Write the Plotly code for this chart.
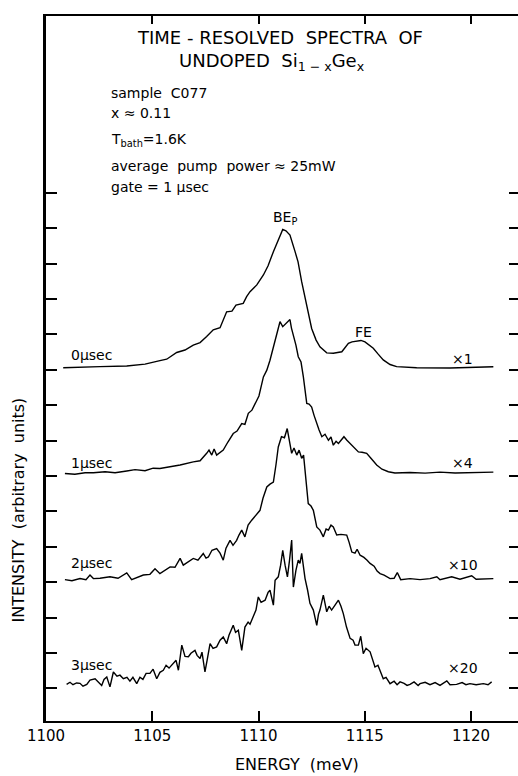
import plotly.graph_objects as go

# ---------------- data ----------------
# Energies in meV, intensities in units of one y-tick spacing above each baseline
E0 = [1100.81, 1101.60, 1102.54, 1103.80, 1104.66, 1105.36, 1105.68, 1106.15, 1106.54, 1106.93,
      1107.25, 1107.56, 1107.87, 1108.19, 1108.50, 1108.75, 1108.94, 1109.28, 1109.44, 1109.60,
      1109.92, 1110.23, 1110.45, 1110.70, 1110.92, 1111.14, 1111.29, 1111.48, 1111.72, 1111.86,
      1112.03, 1112.27, 1112.50, 1112.71, 1112.89, 1113.21, 1113.52, 1113.92, 1114.02, 1114.23,
      1114.40, 1114.62, 1114.82, 1115.01, 1115.40, 1115.62, 1115.87, 1116.19, 1116.50, 1117.44,
      1119.01, 1121.05]
I0 = [0.06, 0.065, 0.09, 0.11, 0.16, 0.26, 0.30, 0.49, 0.56, 0.70,
      0.77, 0.94, 1.13, 1.19, 1.64, 1.66, 1.83, 1.88, 2.07, 2.21,
      2.40, 2.68, 2.94, 3.34, 3.67, 3.97, 3.93, 3.81, 3.34, 3.05,
      2.49, 1.83, 1.17, 0.84, 0.65, 0.48, 0.47, 0.51, 0.59, 0.75,
      0.79, 0.81, 0.83, 0.79, 0.61, 0.45, 0.28, 0.15, 0.09, 0.06,
      0.05, 0.085]

E1 = [1100.89, 1101.36, 1101.84, 1102.23, 1102.78, 1103.25, 1103.80, 1104.19, 1104.66, 1105.04,
      1105.36, 1105.84, 1106.31, 1106.93, 1107.25, 1107.56, 1107.67, 1107.80, 1107.91, 1108.03,
      1108.34, 1108.56, 1108.81, 1108.99, 1109.21, 1109.36, 1109.52, 1109.69, 1109.92, 1110.02,
      1110.23, 1110.39, 1110.54, 1110.86, 1111.01, 1111.14, 1111.25, 1111.36, 1111.48, 1111.55,
      1111.64, 1111.76, 1111.87, 1112.00, 1112.11, 1112.19, 1112.27, 1112.38, 1112.50, 1112.61,
      1112.74, 1112.85, 1112.98, 1113.13, 1113.29, 1113.41, 1113.52, 1113.65, 1113.76, 1113.88,
      1114.02, 1114.16, 1114.31, 1114.49, 1114.70, 1114.87, 1115.09, 1115.29, 1115.56, 1115.81,
      1116.11, 1116.42, 1117.13, 1117.84, 1118.54, 1119.25, 1119.95, 1121.05]
I1 = [0.07, 0.05, 0.09, 0.09, 0.12, 0.09, 0.14, 0.18, 0.15, 0.22,
      0.21, 0.25, 0.31, 0.40, 0.43, 0.64, 0.73, 0.59, 0.76, 0.59,
      0.73, 0.96, 1.20, 1.27, 1.48, 1.46, 1.77, 1.86, 2.14, 2.26,
      2.80, 2.99, 3.27, 4.03, 4.36, 4.22, 4.29, 4.35, 4.42, 4.18,
      3.98, 3.70, 3.37, 3.22, 2.80, 2.43, 2.05, 2.03, 1.95, 1.72,
      1.48, 1.30, 1.11, 1.18, 1.01, 1.10, 0.87, 0.98, 0.92, 1.01,
      1.11, 1.01, 0.92, 0.79, 0.68, 0.67, 0.64, 0.50, 0.31, 0.19,
      0.12, 0.085, 0.10, 0.08, 0.11, 0.085, 0.09, 0.11]

E2 = [1100.89, 1101.22, 1101.60, 1101.88, 1102.07, 1102.23, 1102.54, 1103.01, 1103.39, 1103.80,
      1104.03, 1104.33, 1104.58, 1104.89, 1105.13, 1105.36, 1105.60, 1105.84, 1106.07, 1106.31,
      1106.46, 1106.68, 1106.93, 1107.15, 1107.40, 1107.53, 1107.64, 1107.81, 1108.03, 1108.19,
      1108.34, 1108.47, 1108.66, 1108.80, 1108.97, 1109.08, 1109.21, 1109.36, 1109.51, 1109.68,
      1109.88, 1110.07, 1110.21, 1110.39, 1110.54, 1110.70, 1110.82, 1110.93, 1111.08, 1111.22,
      1111.35, 1111.46, 1111.56, 1111.67, 1111.80, 1111.91, 1112.03, 1112.12, 1112.19, 1112.26,
      1112.34, 1112.47, 1112.58, 1112.74, 1112.89, 1113.05, 1113.18, 1113.29, 1113.41, 1113.52,
      1113.68, 1113.88, 1114.15, 1114.26, 1114.39, 1114.54, 1114.64, 1114.78, 1114.96, 1115.11,
      1115.25, 1115.44, 1115.58, 1115.72, 1115.91, 1116.19, 1116.38, 1116.53, 1116.69, 1117.13,
      1117.60, 1118.07, 1118.39, 1118.54, 1119.09, 1119.48, 1120.03, 1120.24, 1120.66, 1121.05]
I2 = [0.07, 0.04, 0.10, 0.07, 0.20, 0.10, 0.11, 0.15, 0.11, 0.26,
      0.07, 0.14, 0.20, 0.22, 0.38, 0.24, 0.34, 0.43, 0.42, 0.67,
      0.48, 0.56, 0.67, 0.62, 0.81, 0.68, 0.71, 0.90, 0.95, 0.82,
      0.62, 0.96, 1.18, 1.04, 1.18, 1.33, 1.47, 1.28, 1.61, 1.75,
      1.89, 2.03, 2.37, 2.69, 2.77, 2.83, 3.31, 3.82, 4.11, 4.08,
      4.34, 4.01, 3.64, 3.79, 3.59, 3.73, 3.50, 3.59, 3.16, 2.88,
      2.22, 2.15, 2.03, 1.56, 1.47, 1.28, 1.50, 1.47, 1.61, 1.56,
      1.33, 1.35, 1.33, 1.13, 0.85, 0.82, 0.93, 0.76, 0.70, 0.62,
      0.53, 0.45, 0.31, 0.24, 0.20, 0.10, 0.11, 0.27, 0.07, 0.10,
      0.07, 0.10, 0.15, 0.07, 0.15, 0.08, 0.18, 0.08, 0.10, 0.10]

E3 = [1100.97, 1101.13, 1101.27, 1101.44, 1101.60, 1101.74, 1101.92, 1102.07, 1102.31, 1102.45,
      1102.62, 1102.73, 1102.86, 1103.01, 1103.17, 1103.34, 1103.48, 1103.64, 1103.81, 1103.95,
      1104.09, 1104.27, 1104.42, 1104.56, 1104.71, 1104.89, 1105.04, 1105.21, 1105.36, 1105.52,
      1105.65, 1105.79, 1105.99, 1106.12, 1106.23, 1106.39, 1106.54, 1106.70, 1106.82, 1107.01,
      1107.11, 1107.25, 1107.34, 1107.48, 1107.58, 1107.72, 1107.86, 1108.03, 1108.19, 1108.34,
      1108.50, 1108.61, 1108.81, 1108.92, 1109.05, 1109.21, 1109.36, 1109.51, 1109.60, 1109.76,
      1109.88, 1109.99, 1110.12, 1110.31, 1110.45, 1110.54, 1110.70, 1110.78, 1110.93, 1111.04,
      1111.14, 1111.25, 1111.36, 1111.46, 1111.56, 1111.64, 1111.76, 1111.87, 1111.95, 1112.03,
      1112.19, 1112.31, 1112.42, 1112.58, 1112.74, 1112.82, 1112.89, 1113.05, 1113.21, 1113.32,
      1113.44, 1113.60, 1113.76, 1113.88, 1113.99, 1114.14, 1114.31, 1114.45, 1114.54, 1114.70,
      1114.81, 1114.93, 1115.06, 1115.25, 1115.34, 1115.48, 1115.62, 1115.72, 1115.87, 1116.00,
      1116.19, 1116.38, 1116.52, 1116.66, 1116.85, 1116.99, 1117.13, 1117.32, 1117.51, 1117.60,
      1117.84, 1118.07, 1118.31, 1118.54, 1118.86, 1119.01, 1119.32, 1119.58, 1119.76, 1119.95,
      1120.24, 1120.58, 1120.80, 1120.97]
I3 = [0.11, 0.17, 0.10, 0.15, 0.14, 0.06, 0.11, 0.23, 0.27, 0.17,
      0.08, 0.25, 0.32, 0.04, 0.46, 0.34, 0.37, 0.27, 0.31, 0.20,
      0.31, 0.13, 0.31, 0.25, 0.42, 0.42, 0.54, 0.27, 0.45, 0.51,
      0.65, 0.57, 0.70, 0.79, 0.51, 1.22, 0.90, 0.89, 0.99, 1.07,
      0.93, 0.84, 1.02, 0.46, 0.79, 1.26, 1.13, 1.17, 1.36, 1.45,
      1.26, 1.50, 1.78, 1.58, 1.64, 1.07, 1.73, 1.87, 1.81, 2.02,
      2.21, 2.58, 2.43, 2.49, 2.71, 2.77, 2.35, 3.05, 3.15, 3.48,
      3.90, 3.48, 3.15, 3.62, 4.19, 2.86, 3.33, 3.62, 3.53, 3.81,
      3.10, 2.77, 2.40, 2.21, 1.78, 2.09, 2.21, 2.63, 2.16, 2.32,
      2.21, 2.35, 2.49, 2.32, 2.11, 1.73, 1.41, 1.36, 1.22, 1.22,
      1.47, 0.98, 1.13, 1.03, 0.85, 0.60, 0.65, 0.51, 0.27, 0.31,
      0.13, 0.20, 0.10, 0.18, 0.14, 0.08, 0.11, 0.18, 0.08, 0.13,
      0.17, 0.10, 0.16, 0.08, 0.21, 0.10, 0.11, 0.16, 0.10, 0.13,
      0.10, 0.13, 0.10, 0.18]

delays = ["0\u03bcsec", "1\u03bcsec", "2\u03bcsec", "3\u03bcsec"]
scales = ["\u00d71", "\u00d74", "\u00d710", "\u00d720"]
offsets = [9, 6, 3, 0]
x_ticks = [1100, 1105, 1110, 1115, 1120]
y_ticks = list(range(0, 15))

energies = [E0, E1, E2, E3]
intens = [I0, I1, I2, I3]

# identical scales on all four sides; some spectra are drawn on the twin
# (top / right) axes so that those frame sides and their ticks are rendered
x_of = ["x2", "x", "x", "x"]
y_of = ["y", "y", "y", "y2"]

FONT = "DejaVu Sans"
X_RANGE = [1100, 1122.21]
Y_RANGE = [-0.925, 19.00]

fig = go.Figure()
for E, I, off, xa, ya in zip(energies, intens, offsets, x_of, y_of):
    fig.add_trace(go.Scatter(x=E, y=[v + off for v in I], mode="lines",
                             xaxis=xa, yaxis=ya,
                             line=dict(color="black", width=1.4),
                             hoverinfo="skip", showlegend=False))

ann = []
def A(x, y, text, size, xanchor="center", xref="x", yref="y", angle=0):
    ann.append(dict(x=x, y=y, xref=xref, yref=yref, text=text, showarrow=False,
                    xanchor=xanchor, yanchor="middle", textangle=angle,
                    font=dict(family=FONT, size=size, color="black")))

A(1111.01, 18.40, "TIME - RESOLVED  SPECTRA  OF", 18)
A(1110.64, 17.70, "UNDOPED  Si<sub>1 \u2212 x</sub>Ge<sub>x</sub>", 18)
A(1102.96, 16.83, "sample  C077", 14, "left")
A(1102.96, 16.26, "x \u2248 0.11", 14, "left")
A(1102.96, 15.50, "T<sub>bath</sub>=1.6K", 14, "left")
A(1102.96, 14.76, "average  pump  power \u2248 25mW", 14, "left")
A(1102.96, 14.17, "gate = 1 \u03bcsec", 14, "left")
A(1111.25, 13.30, "BE<sub>P</sub>", 14)
A(1114.92, 10.07, "FE", 14)

lab_y = [9.42, 6.37, 3.54, 0.65]
sc_y = [9.31, 6.37, 3.48, 0.57]
for d, s, ly, sy in zip(delays, scales, lab_y, sc_y):
    A(1101.1, ly, d, 14, "left")
    A(1119.62, sy, s, 14)

A(0.532, -0.062, "ENERGY  (meV)", 16, xref="paper", yref="paper")
A(-0.059, 5.03, "INTENSITY  (arbitrary  units)", 16, xref="paper", yref="y", angle=-90)

fig.update_layout(
    width=518, height=776,
    margin=dict(l=46, r=0, t=16, b=55),
    paper_bgcolor="white", plot_bgcolor="white",
    annotations=ann,
    xaxis=dict(range=X_RANGE, tickvals=x_ticks, ticks="inside", ticklen=10,
               tickwidth=1.5, tickcolor="black", showline=True, linewidth=2.2,
               linecolor="black", showgrid=False, zeroline=False,
               tickfont=dict(family=FONT, size=15, color="black")),
    xaxis2=dict(range=X_RANGE, tickvals=x_ticks, ticks="inside", ticklen=8,
                tickwidth=1.5, tickcolor="black", showline=True, linewidth=2,
                linecolor="black", overlaying="x", side="top", anchor="y",
                showticklabels=False, showgrid=False, zeroline=False),
    yaxis=dict(range=Y_RANGE, tickvals=y_ticks, ticks="inside", ticklen=11,
               tickwidth=1.5, tickcolor="black", showline=True, linewidth=2.5,
               linecolor="black", showticklabels=False, showgrid=False, zeroline=False),
    yaxis2=dict(range=Y_RANGE, tickvals=y_ticks, ticks="inside", ticklen=9,
                tickwidth=1.5, tickcolor="black", showline=False, overlaying="y",
                side="right", anchor="x", showticklabels=False, showgrid=False,
                zeroline=False),
)

fig.write_html("out.html", config={"displayModeBar": False})
